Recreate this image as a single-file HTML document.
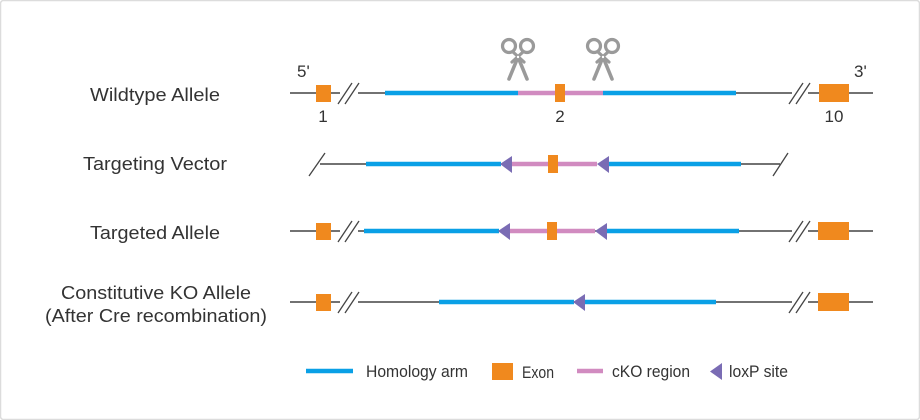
<!DOCTYPE html>
<html>
<head>
<meta charset="utf-8">
<style>
html,body{margin:0;padding:0;background:#fff;}
svg{display:block;}
text{font-family:"Liberation Sans",sans-serif;fill:#333;}
</style>
</head>
<body>
<svg width="920" height="420" viewBox="0 0 920 420" xmlns="http://www.w3.org/2000/svg">
<rect x="0.5" y="0.5" width="919" height="419" fill="#fff" stroke="#dcdcdc" stroke-width="1.5" rx="3"/>

<!-- Left labels -->
<text x="155" y="101" font-size="18" text-anchor="middle" textLength="130" lengthAdjust="spacingAndGlyphs">Wildtype Allele</text>
<text x="155" y="170" font-size="18" text-anchor="middle" textLength="144" lengthAdjust="spacingAndGlyphs">Targeting Vector</text>
<text x="155" y="239" font-size="18" text-anchor="middle" textLength="130" lengthAdjust="spacingAndGlyphs">Targeted Allele</text>
<text x="156" y="299" font-size="18" text-anchor="middle" textLength="190" lengthAdjust="spacingAndGlyphs">Constitutive KO Allele</text>
<text x="156" y="322" font-size="18" text-anchor="middle" textLength="222" lengthAdjust="spacingAndGlyphs">(After Cre recombination)</text>

<!-- Row 1: Wildtype -->
<g>
<line x1="290" y1="93" x2="873" y2="93" stroke="#444" stroke-width="1.5"/>
<rect x="340" y="86" width="18" height="14" fill="#fff"/>
<line x1="338" y1="104" x2="352" y2="83" stroke="#444" stroke-width="1.3"/>
<line x1="345" y1="104" x2="359" y2="83" stroke="#444" stroke-width="1.3"/>
<rect x="792" y="86" width="16" height="14" fill="#fff"/>
<line x1="789" y1="104" x2="803" y2="83" stroke="#444" stroke-width="1.3"/>
<line x1="796" y1="104" x2="810" y2="83" stroke="#444" stroke-width="1.3"/>
<line x1="385" y1="93" x2="518" y2="93" stroke="#0aa0e6" stroke-width="4.5"/>
<line x1="518" y1="93" x2="603" y2="93" stroke="#d18bc0" stroke-width="4.5"/>
<line x1="603" y1="93" x2="736" y2="93" stroke="#0aa0e6" stroke-width="4.5"/>
<rect x="316" y="85" width="15" height="17" fill="#f0891e"/>
<rect x="555" y="84" width="10" height="18" fill="#f0891e"/>
<rect x="819" y="84" width="30" height="18" fill="#f0891e"/>
<text x="297" y="77" font-size="17">5'</text>
<text x="854" y="77" font-size="17">3'</text>
<text x="323" y="122" font-size="17" text-anchor="middle">1</text>
<text x="560" y="122" font-size="17" text-anchor="middle">2</text>
<text x="834" y="122" font-size="17" text-anchor="middle">10</text>
</g>

<!-- Scissors -->
<g id="sc1" fill="none" stroke="#9a9a9a" stroke-width="3.2" stroke-linecap="round">
<circle cx="509" cy="46" r="6.5"/>
<circle cx="527" cy="46" r="6.5"/>
<line x1="513" y1="52" x2="524" y2="62"/>
<line x1="523" y1="52" x2="512" y2="62"/>
<line x1="518" y1="57" x2="509" y2="79" stroke-width="3.6"/>
<line x1="518" y1="57" x2="527" y2="79" stroke-width="3.6"/>
<circle cx="518" cy="57" r="1.2" fill="#fff" stroke="none"/>
</g>
<g fill="none" stroke="#9a9a9a" stroke-width="3.2" stroke-linecap="round">
<circle cx="594" cy="46" r="6.5"/>
<circle cx="612" cy="46" r="6.5"/>
<line x1="598" y1="52" x2="609" y2="62"/>
<line x1="608" y1="52" x2="597" y2="62"/>
<line x1="603" y1="57" x2="594" y2="79" stroke-width="3.6"/>
<line x1="603" y1="57" x2="612" y2="79" stroke-width="3.6"/>
<circle cx="603" cy="57" r="1.2" fill="#fff" stroke="none"/>
</g>

<!-- Row 2: Targeting vector -->
<g>
<line x1="309" y1="176" x2="325" y2="153" stroke="#444" stroke-width="1.3"/>
<line x1="320" y1="164" x2="366" y2="164" stroke="#444" stroke-width="1.5"/>
<line x1="741" y1="164" x2="780" y2="164" stroke="#444" stroke-width="1.5"/>
<line x1="773" y1="176" x2="788" y2="153" stroke="#444" stroke-width="1.3"/>
<line x1="366" y1="164" x2="501" y2="164" stroke="#0aa0e6" stroke-width="4.5"/>
<line x1="511" y1="164" x2="597" y2="164" stroke="#d18bc0" stroke-width="4.5"/>
<line x1="607" y1="164" x2="741" y2="164" stroke="#0aa0e6" stroke-width="4.5"/>
<polygon points="500,164 512,156 512,173" fill="#7a6cb4"/>
<polygon points="597,164 609,156 609,173" fill="#7a6cb4"/>
<rect x="548" y="155" width="10" height="18" fill="#f0891e"/>
</g>

<!-- Row 3: Targeted allele -->
<g>
<line x1="290" y1="231" x2="873" y2="231" stroke="#444" stroke-width="1.5"/>
<rect x="340" y="224" width="18" height="14" fill="#fff"/>
<line x1="338" y1="242" x2="352" y2="221" stroke="#444" stroke-width="1.3"/>
<line x1="345" y1="242" x2="359" y2="221" stroke="#444" stroke-width="1.3"/>
<rect x="792" y="224" width="16" height="14" fill="#fff"/>
<line x1="789" y1="242" x2="803" y2="221" stroke="#444" stroke-width="1.3"/>
<line x1="796" y1="242" x2="810" y2="221" stroke="#444" stroke-width="1.3"/>
<line x1="364" y1="231" x2="499" y2="231" stroke="#0aa0e6" stroke-width="4.5"/>
<line x1="509" y1="231" x2="595" y2="231" stroke="#d18bc0" stroke-width="4.5"/>
<line x1="605" y1="231" x2="739" y2="231" stroke="#0aa0e6" stroke-width="4.5"/>
<polygon points="498,231 510,223 510,240" fill="#7a6cb4"/>
<polygon points="595,231 607,223 607,240" fill="#7a6cb4"/>
<rect x="316" y="223" width="15" height="17" fill="#f0891e"/>
<rect x="547" y="222" width="10" height="18" fill="#f0891e"/>
<rect x="818" y="222" width="31" height="18" fill="#f0891e"/>
</g>

<!-- Row 4: Constitutive KO -->
<g>
<line x1="290" y1="302" x2="873" y2="302" stroke="#444" stroke-width="1.5"/>
<rect x="340" y="295" width="18" height="14" fill="#fff"/>
<line x1="338" y1="313" x2="352" y2="292" stroke="#444" stroke-width="1.3"/>
<line x1="345" y1="313" x2="359" y2="292" stroke="#444" stroke-width="1.3"/>
<rect x="792" y="295" width="16" height="14" fill="#fff"/>
<line x1="789" y1="313" x2="803" y2="292" stroke="#444" stroke-width="1.3"/>
<line x1="796" y1="313" x2="810" y2="292" stroke="#444" stroke-width="1.3"/>
<line x1="439" y1="302" x2="574" y2="302" stroke="#0aa0e6" stroke-width="4.5"/>
<line x1="583" y1="302" x2="716" y2="302" stroke="#0aa0e6" stroke-width="4.5"/>
<polygon points="573,302 585,294 585,311" fill="#7a6cb4"/>
<rect x="316" y="294" width="15" height="17" fill="#f0891e"/>
<rect x="818" y="293" width="31" height="18" fill="#f0891e"/>
</g>

<!-- Legend -->
<g>
<line x1="306" y1="371" x2="353" y2="371" stroke="#0aa0e6" stroke-width="4.5"/>
<text x="366" y="377" font-size="17" textLength="102" lengthAdjust="spacingAndGlyphs">Homology arm</text>
<rect x="492" y="363" width="21" height="17" fill="#f0891e"/>
<text x="522" y="378" font-size="17" textLength="32" lengthAdjust="spacingAndGlyphs">Exon</text>
<line x1="577" y1="371" x2="603" y2="371" stroke="#d18bc0" stroke-width="4.5"/>
<text x="612" y="377" font-size="17" textLength="78" lengthAdjust="spacingAndGlyphs">cKO region</text>
<polygon points="710,371.5 722,363 722,380" fill="#7a6cb4"/>
<text x="729" y="377" font-size="17" textLength="59" lengthAdjust="spacingAndGlyphs">loxP site</text>
</g>
</svg>
</body>
</html>
